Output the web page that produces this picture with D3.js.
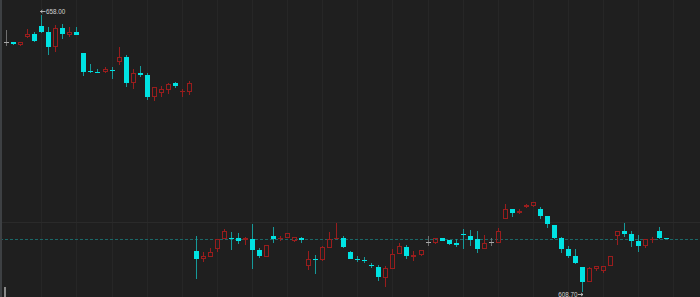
<!DOCTYPE html>
<html>
<head>
<meta charset="utf-8">
<script src="https://cdn.jsdelivr.net/npm/d3@7"></script>
<style>
  html, body { margin: 0; padding: 0; background: #1f1f1f; overflow: hidden; }
  svg { display: block; }
</style>
</head>
<body>
<svg id="chart" width="700" height="297"></svg>
<script>
// ---- data ----
const opens = [653.05,653.11,652.63,653.94,654.48,655.90,654.83,652.27,655.54,654.40,
  654.89,651.15,647.89,647.82,647.71,648.18,649.60,650.38,645.76,647.64,
  647.18,643.37,643.98,644.51,645.76,644.21,644.21,615.91,614.49,614.90,
  616.32,617.99,618.22,618.22,617.81,618.10,616.09,614.90,618.58,618.05,
  618.17,617.69,618.28,613.29,614.43,614.26,616.50,618.05,618.17,615.79,
  614.49,614.31,613.42,613.12,611.11,612.65,615.43,616.68,614.90,615.15,
  617.51,617.39,618.17,617.87,617.28,618.99,618.63,617.99,616.21,617.46,
  617.28,621.55,623.33,622.62,623.69,623.97,623.33,622.14,620.48,618.17,
  616.27,615.02,613.01,610.39,612.76,612.40,613.19,618.53,619.42,618.94,
  617.69,616.80,617.87,619.42,618.17];
const highs = [655.24,653.11,653.11,655.37,654.94,658.00,655.72,656.13,656.31,655.72,
  655.78,651.15,649.14,648.25,648.71,648.66,652.27,650.79,648.30,648.83,
  647.64,645.10,645.22,645.76,646.04,644.74,646.17,618.63,615.68,616.39,
  617.99,619.88,619.24,619.06,618.46,620.77,616.39,616.92,620.13,618.63,
  619.06,618.35,618.46,615.86,615.15,616.80,619.24,620.89,618.58,615.91,
  615.07,614.79,613.83,613.37,613.19,616.32,617.28,616.98,615.86,616.09,
  618.53,618.22,618.17,617.87,617.99,619.83,619.65,619.47,618.70,618.17,
  619.95,624.28,623.33,623.33,624.22,624.68,623.79,622.14,620.48,618.40,
  616.80,616.27,613.01,613.01,613.19,613.19,614.97,619.42,620.89,619.47,
  618.70,617.99,618.40,620.24,618.17];
const lows = [652.45,652.57,652.34,653.76,653.05,654.65,650.79,651.38,653.64,653.94,
  654.30,647.11,647.59,647.54,647.64,646.47,648.96,645.15,644.74,646.82,
  642.78,642.61,643.26,643.90,644.87,643.23,643.76,610.98,613.90,614.90,
  615.79,617.99,616.09,617.21,617.03,612.71,614.72,614.90,617.28,617.64,
  618.17,617.57,617.39,612.47,611.76,614.13,616.50,618.05,616.39,614.43,
  613.95,613.78,612.94,610.52,609.56,612.65,615.43,614.49,614.13,615.07,
  616.85,617.16,617.74,617.03,616.62,616.21,616.80,615.55,616.21,616.85,
  617.28,621.55,621.91,622.50,623.56,623.69,621.55,619.95,617.99,615.50,
  614.72,613.60,608.70,610.39,612.35,612.05,613.19,616.92,618.46,616.68,
  615.79,616.39,617.28,617.99,617.96];
const closes = [653.05,652.70,653.05,654.53,653.28,654.89,652.27,655.60,654.48,654.94,
  654.40,647.82,647.71,647.64,648.30,647.89,650.44,645.76,647.59,647.18,
  643.37,645.10,644.74,645.63,645.33,644.39,645.86,614.43,614.97,615.68,
  617.99,619.42,618.05,617.74,618.28,616.14,615.02,616.92,618.10,618.22,
  619.06,618.35,617.81,614.43,614.26,616.68,618.05,618.22,616.57,614.54,
  614.26,614.13,613.24,611.28,612.88,615.32,616.75,615.02,615.20,616.03,
  617.51,618.17,617.74,617.16,617.03,618.76,617.92,616.32,617.28,617.46,
  619.42,623.44,622.62,622.98,624.10,624.58,622.19,620.66,618.17,616.32,
  615.02,613.83,610.45,612.83,613.19,613.19,614.97,619.42,618.94,617.74,
  616.85,617.99,618.05,618.22,617.96];
const gridPrices = [621.07];
const gridEvery = 5;

// ---- layout ----
const W = 700, H = 297;
const svg = d3.select("#chart");
const n = opens.length;
const candles = d3.range(n).map(i => ({i, o: opens[i], h: highs[i], l: lows[i], c: closes[i]}));

const x = d3.scaleLinear().domain([0, n - 1]).range([6.2, 666.3]);
const y = d3.scaleLinear().domain([608.7, 658]).range([291.5, 14.5]);

const UP = "#9a1d1d", DOWN = "#00e3e3", DOWN_WICK = "#169a9a", DOJI = "#a8a8a8", DOJI_WICK = "#6f6f6f";
const LABEL = "#d2d2d2";

svg.append("rect").attr("width", W).attr("height", H).attr("fill", "#1f1f1f");

// vertical grid every 5 candles
const vIdx = d3.range(gridEvery, n + 1, gridEvery);
svg.append("g").selectAll("line").data(vIdx).join("line")
  .attr("x1", d => Math.round(x(d)) + 0.5).attr("x2", d => Math.round(x(d)) + 0.5)
  .attr("y1", 0).attr("y2", H)
  .attr("stroke", "#262626").attr("stroke-width", 1);

// horizontal grid
svg.append("g").selectAll("line").data(gridPrices).join("line")
  .attr("x1", 0).attr("x2", W)
  .attr("y1", d => Math.round(y(d)) + 0.5).attr("y2", d => Math.round(y(d)) + 0.5)
  .attr("stroke", "#2a2a2a").attr("stroke-width", 1);

// last price dashed line
const last = closes[n - 1];
svg.append("line")
  .attr("x1", 0).attr("x2", W)
  .attr("y1", Math.round(y(last)) + 0.5).attr("y2", Math.round(y(last)) + 0.5)
  .attr("stroke", "#1b6868").attr("stroke-width", 1).attr("stroke-dasharray", "3,2");

// candles
const g = svg.append("g");
candles.forEach(d => {
  const cx = Math.round(x(d.i));
  const kind = d.c > d.o ? "up" : (d.c < d.o ? "down" : "doji");
  const yTop = Math.round(y(Math.max(d.o, d.c)));
  const yBot = Math.round(y(Math.min(d.o, d.c)));
  const yH = Math.round(y(d.h));
  const yL = Math.round(y(d.l));
  const wickColor = kind === "up" ? UP : (kind === "down" ? DOWN_WICK : DOJI_WICK);
  if (kind === "up") {
    if (yH < yTop) g.append("rect").attr("x", cx).attr("y", yH).attr("width", 1).attr("height", yTop - yH).attr("fill", wickColor);
    if (yL > yBot) g.append("rect").attr("x", cx).attr("y", yBot).attr("width", 1).attr("height", yL - yBot).attr("fill", wickColor);
    const hgt = Math.max(yBot - yTop, 1);
    if (hgt <= 2) {
      g.append("rect").attr("x", cx - 2).attr("y", yTop).attr("width", 5).attr("height", Math.max(hgt, 1)).attr("fill", UP);
    } else {
      g.append("rect").attr("x", cx - 1.5).attr("y", yTop + 0.5).attr("width", 4).attr("height", hgt - 1)
        .attr("fill", "none").attr("stroke", UP).attr("stroke-width", 1);
    }
  } else {
    g.append("rect").attr("x", cx).attr("y", yH).attr("width", 1).attr("height", Math.max(yL - yH, 1)).attr("fill", wickColor);
    g.append("rect").attr("x", cx - 2).attr("y", yTop).attr("width", 5).attr("height", Math.max(yBot - yTop, 1))
      .attr("fill", kind === "down" ? DOWN : DOJI);
  }
});

// max / min labels with small arrows pointing at the extreme candle
const iMax = d3.maxIndex(highs), iMin = d3.minIndex(lows);
function arrow(x0, yy, dir) { // dir -1: points left at x0, +1: points right at x0
  const p = d3.path();
  p.moveTo(x0, yy); p.lineTo(x0 - dir * 5, yy);
  p.moveTo(x0 - dir * 2, yy - 1.5); p.lineTo(x0, yy); p.lineTo(x0 - dir * 2, yy + 1.5);
  return p.toString();
}
const cxMax = Math.round(x(iMax)) - 0.5, yMaxLab = Math.round(y(highs[iMax])) - 3.5;
svg.append("path").attr("d", arrow(cxMax, yMaxLab, -1)).attr("stroke", LABEL).attr("stroke-width", 0.8).attr("fill", "none");
svg.append("text")
  .attr("x", cxMax + 5.5).attr("y", yMaxLab)
  .attr("dominant-baseline", "central").attr("text-anchor", "start")
  .attr("font-family", "Liberation Sans, Arial, sans-serif").attr("font-size", 6.3)
  .attr("fill", LABEL).text(highs[iMax].toFixed(2));

const cxMin = Math.round(x(iMin)) + 1, yMinLab = Math.round(y(lows[iMin])) + 2.5;
svg.append("path").attr("d", arrow(cxMin, yMinLab, 1)).attr("stroke", LABEL).attr("stroke-width", 0.8).attr("fill", "none");
svg.append("text")
  .attr("x", cxMin - 5.5).attr("y", yMinLab)
  .attr("dominant-baseline", "central").attr("text-anchor", "end")
  .attr("font-family", "Liberation Sans, Arial, sans-serif").attr("font-size", 6.3)
  .attr("fill", LABEL).text(lows[iMin].toFixed(2));

// left edge strip and small handle
svg.append("rect").attr("x", 0).attr("y", 0).attr("width", 2).attr("height", H).attr("fill", "#3d4043");
svg.append("rect").attr("x", 4).attr("y", 287).attr("width", 2).attr("height", 10).attr("fill", "#8a8a8a");
</script>
</body>
</html>
